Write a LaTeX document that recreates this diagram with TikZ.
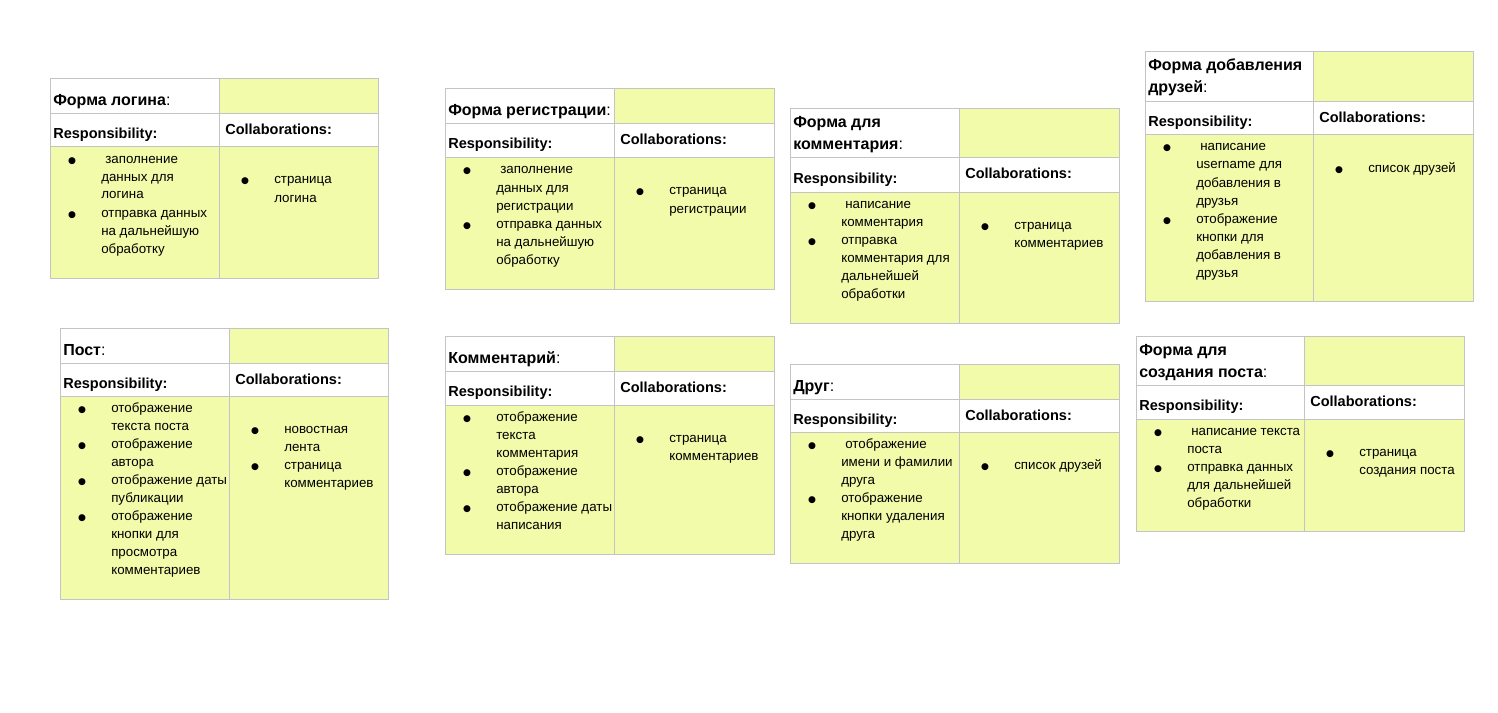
\documentclass[tikz,border=0pt]{standalone}
\usepackage{fontspec}
\setmainfont{Liberation Sans}
\newfontfamily\bulfont{DejaVu Sans}
\definecolor{crcyellow}{HTML}{F1FBA9}
\definecolor{crcgray}{HTML}{C4C4C4}
\newcommand\lead{\hspace*{3pt}}
\tikzset{
  crcfill/.style={fill=crcyellow},
  crcline/.style={draw=crcgray, line width=0.75pt},
  hdr/.style={anchor=base west, inner sep=0pt, font=\fontsize{10.9}{13}\selectfont\bfseries},
  ttl/.style={anchor=base west, inner sep=0pt, font=\fontsize{12}{14}\selectfont\bfseries},
  body/.style={anchor=base west, inner sep=0pt, font=\fontsize{10}{12}\selectfont},
  bul/.style={anchor=base, inner sep=0pt, font=\bulfont\fontsize{6.8}{8}\selectfont},
}
\newcommand\crcframe[8]{%
  \fill[crcfill] (#3,#5) rectangle (#4,#6);
  \fill[crcfill] (#2,#7) rectangle (#4,#8);
  \draw[crcline] (#2,#5) rectangle (#4,#8);
  \draw[crcline] (#2,#6) -- (#4,#6) (#2,#7) -- (#4,#7) (#3,#5) -- (#3,#8);
  \node[hdr] (#1-resp) at (#2+3,#6+25) {Responsibility:};
  \node[hdr] (#1-coll) at (#3+6,#6+21) {Collaborations:};
}
\newcommand\crclines[4]{%
  \foreach \b/\t [count=\i] in {#4} {
    \node[body] (#1-\i) at (#2+29,#3+18*\i-18) {\t};
    \ifnum\b=1 \node[bul] (#1-b\i) at (#2,#3+18*\i-18) {●};\fi
  }
}
\begin{document}
\begin{tikzpicture}[x=0.75pt,y=-0.75pt]
\useasboundingbox[fill=white] (0,0) rectangle (1498,713);

% Форма логина
\crcframe{login}{50}{219}{378}{79}{114}{147}{278}
\node[ttl] (login-title) at (53,106) {Форма логина\textmd{:}};
\crclines{login-r}{72}{163}{1/\lead заполнение, 0/данных для, 0/логина, 1/отправка данных, 0/на дальнейшую, 0/обработку}
\crclines{login-c}{245}{184}{1/страница, 0/логина}

% Форма регистрации
\crcframe{reg}{445}{614}{774}{89}{124}{158}{289}
\node[ttl] (reg-title) at (448,116) {Форма регистрации\textmd{:}};
\crclines{reg-r}{467}{174}{1/\lead заполнение, 0/данных для, 0/регистрации, 1/отправка данных, 0/на дальнейшую, 0/обработку}
\crclines{reg-c}{640}{195}{1/страница, 0/регистрации}

% Форма для комментария
\crcframe{cform}{790}{959}{1119}{109}{158}{192}{323}
\node[ttl] (cform-title1) at (793,128) {Форма для};
\node[ttl] (cform-title2) at (793,150) {комментария\textmd{:}};
\crclines{cform-r}{812}{208}{1/\lead написание, 0/комментария, 1/отправка, 0/комментария для, 0/дальнейшей, 0/обработки}
\crclines{cform-c}{985}{229}{1/страница, 0/комментариев}

% Форма добавления друзей
\crcframe{fform}{1145}{1313}{1473}{52}{102}{135}{301}
\node[ttl] (fform-title1) at (1148,71) {Форма добавления};
\node[ttl] (fform-title2) at (1148,93) {друзей\textmd{:}};
\crclines{fform-r}{1167}{151}{1/\lead написание, 0/username для, 0/добавления в, 0/друзья, 1/отображение, 0/кнопки для, 0/добавления в, 0/друзья}
\crclines{fform-c}{1339}{172}{1/список друзей}

% Пост
\crcframe{post}{60}{229}{388}{328}{363}{396}{599}
\node[ttl] (post-title) at (63,355) {Пост\textmd{:}};
\crclines{post-r}{82}{412}{1/отображение, 0/текста поста, 1/отображение, 0/автора, 1/отображение даты, 0/публикации, 1/отображение, 0/кнопки для, 0/просмотра, 0/комментариев}
\crclines{post-c}{255}{433}{1/новостная, 0/лента, 1/страница, 0/комментариев}

% Комментарий
\crcframe{comm}{445}{614}{774}{336}{371}{405}{554}
\node[ttl] (comm-title) at (448,363) {Комментарий\textmd{:}};
\crclines{comm-r}{467}{421}{1/отображение, 0/текста, 0/комментария, 1/отображение, 0/автора, 1/отображение даты, 0/написания}
\crclines{comm-c}{640}{442}{1/страница, 0/комментариев}

% Друг
\crcframe{friend}{790}{959}{1119}{364}{399}{432}{563}
\node[ttl] (friend-title) at (793,391) {Друг\textmd{:}};
\crclines{friend-r}{812}{448}{1/\lead отображение, 0/имени и фамилии, 0/друга, 1/отображение, 0/кнопки удаления, 0/друга}
\crclines{friend-c}{985}{469}{1/список друзей}

% Форма для создания поста
\crcframe{pform}{1136}{1304}{1464}{336}{385}{419}{531}
\node[ttl] (pform-title1) at (1139,355) {Форма для};
\node[ttl] (pform-title2) at (1139,377) {создания поста\textmd{:}};
\crclines{pform-r}{1158}{435}{1/\lead написание текста, 0/поста, 1/отправка данных, 0/для дальнейшей, 0/обработки}
\crclines{pform-c}{1330}{456}{1/страница, 0/создания поста}
\end{tikzpicture}
\end{document}
